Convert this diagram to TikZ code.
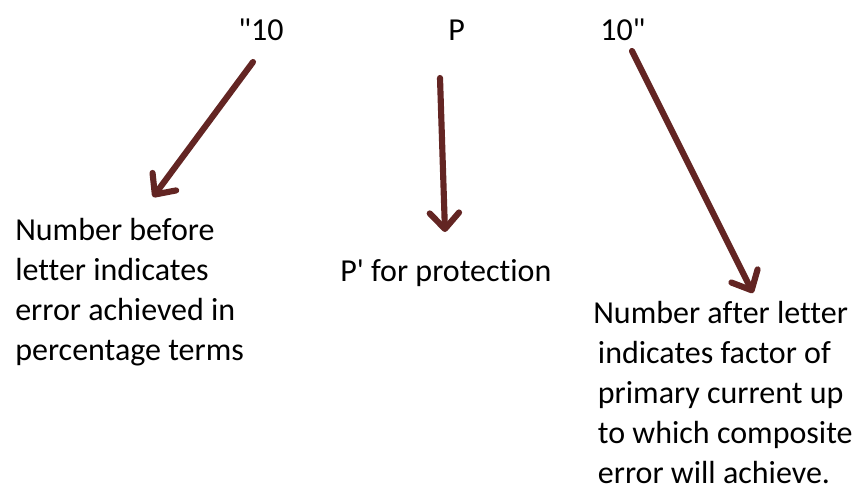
\documentclass[tikz,border=0pt]{standalone}
\usepackage{fontspec}
\setmainfont{Carlito}[Ligatures={TeXOff,NoCommon}]
\usepackage{xcolor}
\usetikzlibrary{arrows.meta}
\definecolor{maroon}{HTML}{632523}

\tikzset{
  lbl/.style={inner sep=0pt, anchor=base west, font=\fontsize{24}{30}\selectfont},
  txt/.style={lbl, align=left},
  pil/.style={draw=maroon, line width=4.6pt, line cap=round,
    -{Straight Barb[length=12pt, width=22pt, round]}}
}
\newcommand{\ind}{\hspace*{3.5pt}}

\begin{document}
\begin{tikzpicture}[x=0.75pt, y=-0.75pt]
\useasboundingbox (0,0) rectangle (862,490);

% top labels
\node[lbl] (ten1) at (238,40) {"10};
\node[lbl] (pp) at (448,40) {P};
\node[lbl] (ten2) at (600,40) {10"};

% explanations (base = last line)
\node[txt] (before) at (15,360) {Number before\\letter indicates\\error achieved in\\percentage terms};
\node[lbl] (prot) at (340,281) {P' for protection};
\node[txt] (after) at (593,483) {Number after letter\\\ind indicates factor of\\\ind primary current up\\\ind to which composite\\\ind error will achieve.};

\coordinate (a1) at (253,62);  \coordinate (b1) at (153,197);
\coordinate (a2) at (440,78);  \coordinate (b2) at (445,232);
\coordinate (a3) at (632,51);  \coordinate (b3) at (753,293);

\draw[pil] (a1) -- (b1);
\draw[pil] (a2) -- (b2);
\draw[pil] (a3) -- (b3);

\end{tikzpicture}
\end{document}
